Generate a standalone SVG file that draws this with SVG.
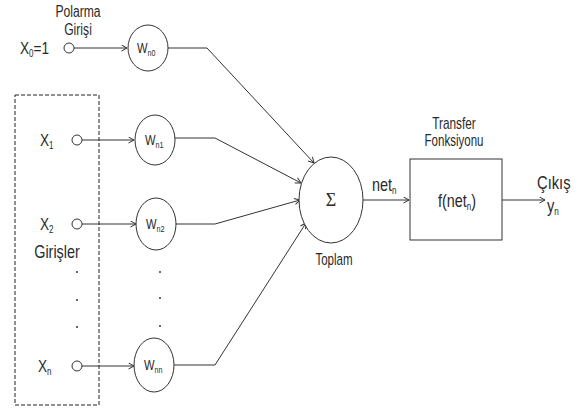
<svg xmlns="http://www.w3.org/2000/svg" width="580" height="410" viewBox="0 0 580 410">
<style>
text{font-family:"Liberation Sans","Arial",sans-serif;fill:#2a2a2a}
.ln{stroke:#333;stroke-width:1;fill:none}
.nd{stroke:#333;stroke-width:1;fill:#fff}
.lbl{font-size:16px}
.big{font-size:17px}
.w{font-size:14px}
.sub{font-size:10px}
.ws{font-size:9px}
.dot{fill:#333}
</style>
<defs>
<marker id="ar" markerWidth="8" markerHeight="8" refX="6" refY="3.5" orient="auto" markerUnits="userSpaceOnUse">
<path d="M0.5,0.5 L6,3.5 L0.5,6.5" fill="none" stroke="#333" stroke-width="1"/>
</marker>
</defs>
<g id="connectors">
<line class="ln" x1="74" y1="48" x2="127" y2="48" marker-end="url(#ar)"/>
<line class="ln" x1="82" y1="140" x2="134" y2="140" marker-end="url(#ar)"/>
<line class="ln" x1="82" y1="224" x2="136" y2="224" marker-end="url(#ar)"/>
<line class="ln" x1="82" y1="366" x2="134" y2="366" marker-end="url(#ar)"/>
<polyline class="ln" points="167,48 207,48 314,163" marker-end="url(#ar)"/>
<polyline class="ln" points="175,138 215,138 301,183" marker-end="url(#ar)"/>
<polyline class="ln" points="176,224 215,224 300,200" marker-end="url(#ar)"/>
<polyline class="ln" points="174,365 215,365 306,223" marker-end="url(#ar)"/>
<line class="ln" x1="363" y1="200" x2="409" y2="200" marker-end="url(#ar)"/>
<line class="ln" x1="502" y1="200" x2="545" y2="200" marker-end="url(#ar)"/>
</g>
<g id="polarma">
<text class="lbl" transform="translate(78,17) scale(0.76,1)" text-anchor="middle">Polarma</text>
<text class="lbl" transform="translate(78,35) scale(0.76,1)" text-anchor="middle">Girişi</text>
</g>
<g id="x0">
<text class="big" transform="translate(20,54) scale(0.8,1)">X<tspan class="sub" dy="3">0</tspan><tspan dy="-3">=1</tspan></text>
<circle class="nd" cx="69" cy="48" r="5"/>
</g>
<g id="girisler">
<rect x="15" y="95" width="84" height="310" fill="none" stroke="#222" stroke-width="1" stroke-dasharray="4,2"/>
<text transform="translate(57,258) scale(0.8,1)" text-anchor="middle" style="font-size:18px">Girişler</text>
<circle class="dot" cx="77" cy="272" r="1"/>
<circle class="dot" cx="77" cy="300" r="1"/>
<circle class="dot" cx="77" cy="327" r="1"/>
</g>
<g id="x1">
<text class="big" transform="translate(40,146) scale(0.8,1)">X<tspan class="sub" dy="3">1</tspan></text>
<circle class="nd" cx="77" cy="140" r="5"/>
</g>
<g id="x2">
<text class="big" transform="translate(40,230) scale(0.8,1)">X<tspan class="sub" dy="3">2</tspan></text>
<circle class="nd" cx="77" cy="224" r="5"/>
</g>
<g id="xn">
<text class="big" transform="translate(38,372) scale(0.8,1)">X<tspan class="sub" dy="3">n</tspan></text>
<circle class="nd" cx="77" cy="366" r="5"/>
</g>
<g id="wn0">
<ellipse class="nd" cx="148" cy="48" rx="20" ry="23"/>
<text class="w" transform="translate(137,53) scale(0.8,1)">W<tspan class="ws" dy="3">n0</tspan></text>
</g>
<g id="wn1">
<ellipse class="nd" cx="155" cy="140" rx="20" ry="25"/>
<text class="w" transform="translate(145,145) scale(0.8,1)">W<tspan class="ws" dy="3">n1</tspan></text>
</g>
<g id="wn2">
<ellipse class="nd" cx="156" cy="224" rx="20" ry="26"/>
<text class="w" transform="translate(146,229) scale(0.8,1)">W<tspan class="ws" dy="3">n2</tspan></text>
</g>
<g id="wdots">
<circle class="dot" cx="160" cy="272" r="1"/>
<circle class="dot" cx="160" cy="298" r="1"/>
<circle class="dot" cx="160" cy="326" r="1"/>
</g>
<g id="wnn">
<ellipse class="nd" cx="154" cy="365" rx="20" ry="27"/>
<text class="w" transform="translate(144,370) scale(0.8,1)">W<tspan class="ws" dy="3">nn</tspan></text>
</g>
<g id="toplam">
<ellipse class="nd" cx="331" cy="200" rx="32" ry="43"/>
<text x="331" y="206" text-anchor="middle" style="font-family:'Liberation Serif',serif;font-size:18px">Σ</text>
<text class="lbl" transform="translate(334,265) scale(0.72,1)" text-anchor="middle">Toplam</text>
</g>
<g id="net">
<text transform="translate(372,191) scale(0.8,1)" style="font-size:18px">net<tspan class="sub" dy="3">n</tspan></text>
</g>
<g id="transfer">
<text class="lbl" transform="translate(454,129) scale(0.74,1)" text-anchor="middle">Transfer</text>
<text class="lbl" transform="translate(454,146) scale(0.72,1)" text-anchor="middle">Fonksiyonu</text>
<rect class="nd" x="410" y="159" width="92" height="81"/>
<text transform="translate(438,207) scale(0.8,1)" style="font-size:18px">f(net<tspan class="sub" dy="3">n</tspan><tspan dy="-3">)</tspan></text>
</g>
<g id="cikis">
<text transform="translate(537,189) scale(0.82,1)" style="font-size:18px">Çıkış</text>
<text transform="translate(547,212) scale(0.82,1)" style="font-size:18px">y<tspan class="sub" dy="3">n</tspan></text>
</g>
</svg>
